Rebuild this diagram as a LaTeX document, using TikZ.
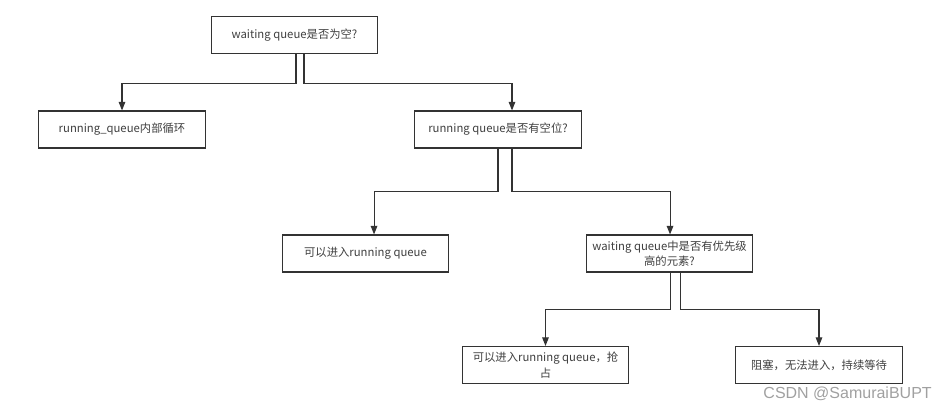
\documentclass[tikz,border=0pt]{standalone}
\usepackage{fontspec}
\setmainfont{Noto Sans CJK SC}
\newfontfamily\markfont{Liberation Sans}
\usepackage{tikz}
\usetikzlibrary{arrows.meta,positioning}
\definecolor{QueueDark}{HTML}{333333}
\definecolor{QueueText}{HTML}{404040}
\definecolor{QueueMark}{HTML}{A0A0A0}
\tikzset{
  qbox/.style={draw=QueueDark,line width=0.85pt,minimum width=125pt,minimum height=27.75pt,align=center,inner sep=2pt,font=\fontsize{8.5}{11.5}\selectfont,text=QueueText,fill=white},
  qarrow/.style={-{Triangle[length=6.5pt,width=5pt]},line width=0.8pt,draw=QueueDark},
  qline/.style={line width=0.8pt,draw=QueueDark}
}

\begin{document}
\begin{tikzpicture}[x=0.75pt,y=-0.75pt]
\useasboundingbox (0,0) rectangle (947,407);
\node[qbox] (empty) at (294.5,35) {waiting queue是否为空?};
\node[qbox] (inner) at (122,129.5) {running\_queue内部循环};
\node[qbox] (space) at (498,129.5) {running queue是否有空位?};
\node[qbox] (enter) at (365.5,253.5) {可以进入running queue};
\node[qbox] (prio) at (669.5,253.5) {waiting queue中是否有优先级\\高的元素?};
\node[qbox] (preempt) at (545.5,365) {可以进入running queue，抢\\占};
\node[qbox] (block) at (819,365) {阻塞，无法进入，持续等待};
\node[anchor=base east,text=QueueMark,font=\markfont\fontsize{12}{14}\selectfont,inner sep=0pt] (mark) at (932,398) {CSDN @SamuraiBUPT};
\draw[qarrow] ([xshift=1.1pt]empty.south) -- ++(0,29) -| (inner.north);
\draw[qarrow] ([xshift=7.1pt]empty.south) -- ++(0,29) -| ([xshift=10.5pt]space.north);
\draw[qarrow] (space.south) -- ++(0,43) -| ([xshift=6.4pt]enter.north);
\draw[qarrow] ([xshift=10.5pt]space.south) -- ++(0,43) -| ([xshift=0.4pt]prio.north);
\draw[qarrow] ([xshift=0.4pt]prio.south) -- ++(0,37) -| (preempt.north);
\draw[qarrow] ([xshift=7.9pt]prio.south) -- ++(0,37) -| (block.north);
\end{tikzpicture}
\end{document}
